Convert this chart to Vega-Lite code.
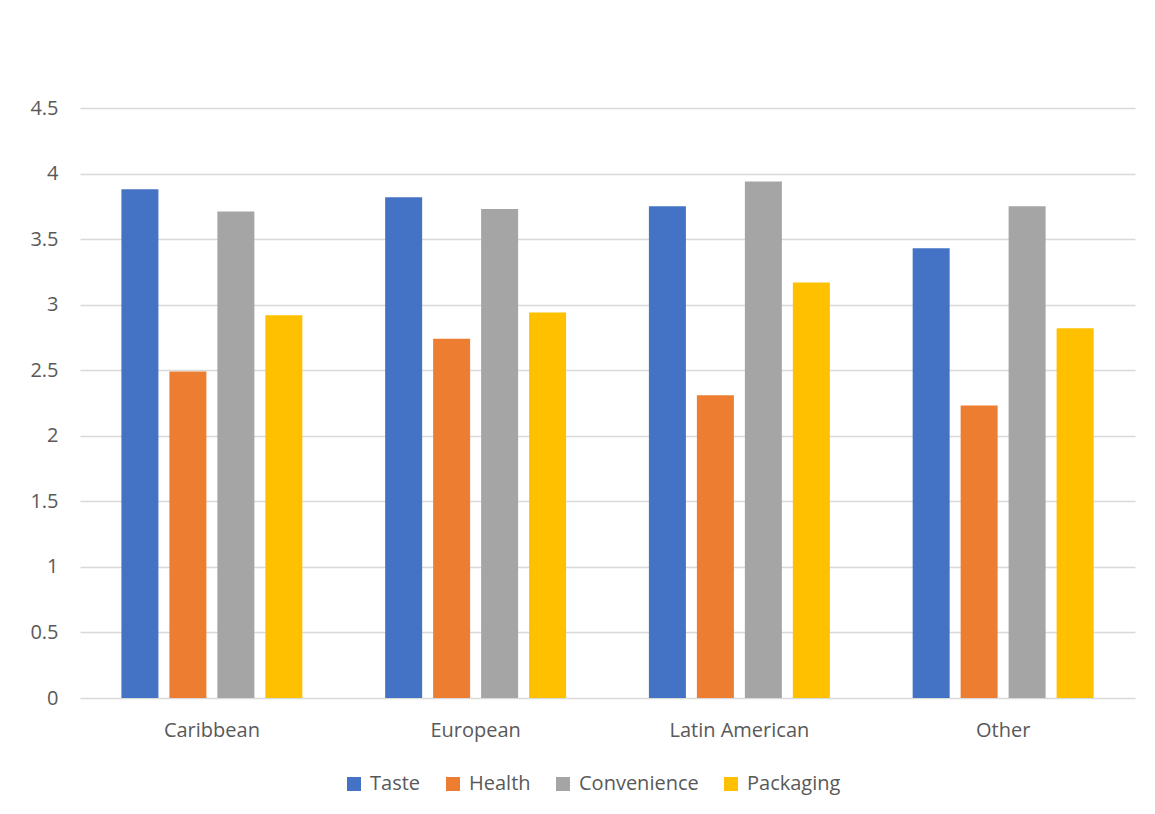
{
  "$schema": "https://vega.github.io/schema/vega-lite/v6.json",
  "width": 1055,
  "height": 590,
  "autosize": {"type": "none"},
  "padding": {"left": 80, "top": 108, "right": 20, "bottom": 116},
  "background": "white",
  "data": {
    "values": [
      {"region": "Caribbean", "factor": "Taste", "value": 3.88},
      {"region": "Caribbean", "factor": "Health", "value": 2.49},
      {"region": "Caribbean", "factor": "Convenience", "value": 3.71},
      {"region": "Caribbean", "factor": "Packaging", "value": 2.92},
      {"region": "European", "factor": "Taste", "value": 3.82},
      {"region": "European", "factor": "Health", "value": 2.74},
      {"region": "European", "factor": "Convenience", "value": 3.73},
      {"region": "European", "factor": "Packaging", "value": 2.94},
      {"region": "Latin American", "factor": "Taste", "value": 3.75},
      {"region": "Latin American", "factor": "Health", "value": 2.31},
      {"region": "Latin American", "factor": "Convenience", "value": 3.94},
      {"region": "Latin American", "factor": "Packaging", "value": 3.17},
      {"region": "Other", "factor": "Taste", "value": 3.43},
      {"region": "Other", "factor": "Health", "value": 2.23},
      {"region": "Other", "factor": "Convenience", "value": 3.75},
      {"region": "Other", "factor": "Packaging", "value": 2.82}
    ]
  },
  "mark": {"type": "bar"},
  "encoding": {
    "x": {
      "field": "region",
      "type": "nominal",
      "sort": ["Caribbean", "European", "Latin American", "Other"],
      "scale": {"paddingInner": 0.314, "paddingOuter": 0.157},
      "axis": {
        "title": null,
        "labelAngle": 0,
        "labelFont": "Open Sans",
        "labelFontSize": 20,
        "labelColor": "#595959",
        "labelPadding": 22,
        "ticks": false,
        "domain": false,
        "grid": false
      }
    },
    "xOffset": {
      "field": "factor",
      "type": "nominal",
      "sort": ["Taste", "Health", "Convenience", "Packaging"],
      "scale": {"paddingInner": 0.229, "paddingOuter": 0}
    },
    "y": {
      "field": "value",
      "type": "quantitative",
      "scale": {"domain": [0, 4.5], "nice": false},
      "axis": {
        "title": null,
        "values": [0, 0.5, 1, 1.5, 2, 2.5, 3, 3.5, 4, 4.5],
        "format": ".1~f",
        "labelFont": "Open Sans",
        "labelFontSize": 20,
        "labelColor": "#595959",
        "labelPadding": 22,
        "ticks": false,
        "domain": false,
        "grid": true,
        "gridColor": "#d9d9d9",
        "gridWidth": 1.3
      }
    },
    "color": {
      "field": "factor",
      "type": "nominal",
      "sort": ["Taste", "Health", "Convenience", "Packaging"],
      "scale": {
        "domain": ["Taste", "Health", "Convenience", "Packaging"],
        "range": ["#4472C4", "#ED7D31", "#A5A5A5", "#FFC000"]
      },
      "legend": {
        "title": null,
        "orient": "none",
        "legendX": 264,
        "legendY": 666,
        "direction": "horizontal",
        "columns": 4,
        "symbolType": "square",
        "symbolSize": 196,
        "symbolStrokeWidth": 0,
        "labelFont": "Open Sans",
        "labelFontSize": 20,
        "labelColor": "#595959",
        "labelOffset": 6,
        "columnPadding": 22
      }
    }
  },
  "config": {"view": {"stroke": null}}
}
